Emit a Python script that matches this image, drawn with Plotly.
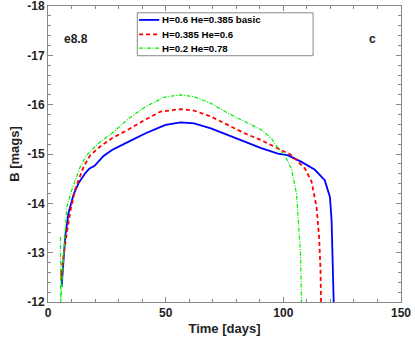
import plotly.graph_objects as go

# H=0.6 He=0.385 basic
t_basic = [5.8, 6.1, 6.6, 7.3, 8.7, 10.8, 13.0, 15.8, 17.5, 19.8, 23.6, 27.2, 34.3, 41.5,
           47.9, 50.0, 56.4, 62.1, 69.2, 76.4, 83.5, 90.6, 97.7, 102.0, 107.7, 113.4,
           117.6, 119.8, 120.5, 120.9, 121.4]
b_basic = [-12.31, -12.5, -12.9, -13.32, -13.80, -14.17, -14.41, -14.61, -14.70, -14.76,
           -14.96, -15.08, -15.25, -15.42, -15.55, -15.59, -15.64, -15.62, -15.52, -15.39,
           -15.25, -15.12, -15.01, -14.97, -14.84, -14.68, -14.47, -14.13, -13.66, -12.99, -12.0]

# H=0.385 He=0.6
t_mid = [5.6, 5.7, 6.2, 7.0, 8.0, 9.5, 11.5, 13.0, 15.1, 18.0, 22.9, 27.2, 34.3, 41.5,
         47.9, 56.4, 62.1, 69.2, 76.4, 83.5, 90.6, 97.7, 103.4, 109.1, 112.0, 114.1,
         115.2, 115.8, 116.0]
b_mid = [-12.6, -12.45, -12.8, -13.1, -13.40, -13.85, -14.27, -14.47, -14.74, -14.98,
         -15.18, -15.32, -15.50, -15.70, -15.86, -15.91, -15.88, -15.76, -15.59, -15.42,
         -15.28, -15.12, -14.98, -14.71, -14.44, -13.93, -13.32, -12.65, -12.0]

# H=0.2 He=0.78
t_low = [5.3, 5.4, 5.8, 6.5, 7.2, 8.0, 10.1, 13.7, 16.5, 21.5, 27.2, 34.3, 41.5, 49.3,
         56.4, 62.1, 69.2, 76.4, 83.5, 90.6, 94.9, 97.7, 100.6, 103.4, 105.6, 106.5,
         107.3, 107.7]
b_low = [-13.32, -12.0, -12.3, -12.9, -13.5, -13.93, -14.27, -14.74, -14.98, -15.22,
         -15.42, -15.72, -15.96, -16.15, -16.20, -16.16, -16.03, -15.83, -15.66, -15.49,
         -15.32, -15.12, -14.98, -14.70, -14.20, -13.66, -12.99, -12.0]

names = ["H=0.6 He=0.385 basic", "H=0.385 He=0.6", "H=0.2 He=0.78"]
colors = ["#0000ff", "#ff0000", "#00ee00"]
dashes = ["solid", "4px,3px", "4px,1.5px,1px,1.5px"]
widths = [1.8, 1.8, 1.2]

y_ticks = [-18, -17, -16, -15, -14, -13, -12]
x_ticks = [0, 50, 100, 150]

txt = "#222222"
frame = "#888888"
bold = dict(family="Arial", weight="bold")

fig = go.Figure()
for tt, bb, nm, c, d, w in zip([t_basic, t_mid, t_low], [b_basic, b_mid, b_low],
                               names, colors, dashes, widths):
    fig.add_trace(go.Scatter(x=tt, y=bb, mode="lines", name=nm, showlegend=False,
                             line=dict(color=c, width=w, dash=d)))

axis_common = dict(
    showline=True, linecolor=frame, linewidth=1, mirror="ticks", automargin=False,
    ticks="inside", ticklen=5, tickcolor=frame, showgrid=False, zeroline=False,
    ticklabeloverflow="allow",
    tickfont=dict(size=12, color=txt, **bold),
)

fig.update_xaxes(range=[0, 150], tickvals=x_ticks, ticktext=[str(v) for v in x_ticks],
                 minor=dict(dtick=10, ticks="inside", ticklen=3, tickcolor=frame),
                 title=dict(text="Time [days]", standoff=4, font=dict(size=13, color=txt, **bold)),
                 **axis_common)
fig.update_yaxes(range=[-12, -18], tickvals=y_ticks, ticktext=[str(v) for v in y_ticks],
                 minor=dict(dtick=0.2, tick0=-18, ticks="inside", ticklen=3, tickcolor=frame),
                 title=dict(text="B [mags]", standoff=4, font=dict(size=13, color=txt, **bold)),
                 **axis_common)

fig.add_annotation(x=0.04, y=0.92, xref="paper", yref="paper", text="e8.8", showarrow=False,
                   xanchor="left", font=dict(size=12, color=txt, **bold))
fig.add_annotation(x=0.918, y=0.92, xref="paper", yref="paper", text="c", showarrow=False,
                   xanchor="center", font=dict(size=12, color=txt, **bold))

# legend drawn by hand so its compact MATLAB-like spacing can be kept
fig.add_shape(type="rect", xref="paper", yref="paper", x0=0.253, x1=0.751, y0=0.832, y1=0.977,
              line=dict(color=frame, width=1), fillcolor="white", layer="above")
row_y = [0.953, 0.904, 0.858]
for ry, nm, c, d, w in zip(row_y, names, colors, dashes, widths):
    fig.add_shape(type="line", xref="paper", yref="paper", x0=0.258, x1=0.315, y0=ry, y1=ry,
                  line=dict(color=c, width=w, dash=d), layer="above")
    fig.add_annotation(x=0.317, y=ry, xref="paper", yref="paper", text=nm, showarrow=False,
                       xanchor="left", yanchor="middle", font=dict(size=9.7, color="#000000", **bold))

fig.update_layout(
    width=415, height=343,
    margin=dict(l=48, r=14, t=6, b=41),
    plot_bgcolor="white", paper_bgcolor="white",
)

# page body has a default 8px margin; remove it so the figure sits at 0,0
fig.write_html("out.html", config={"displayModeBar": False},
               post_script="document.body.style.margin='0';")
